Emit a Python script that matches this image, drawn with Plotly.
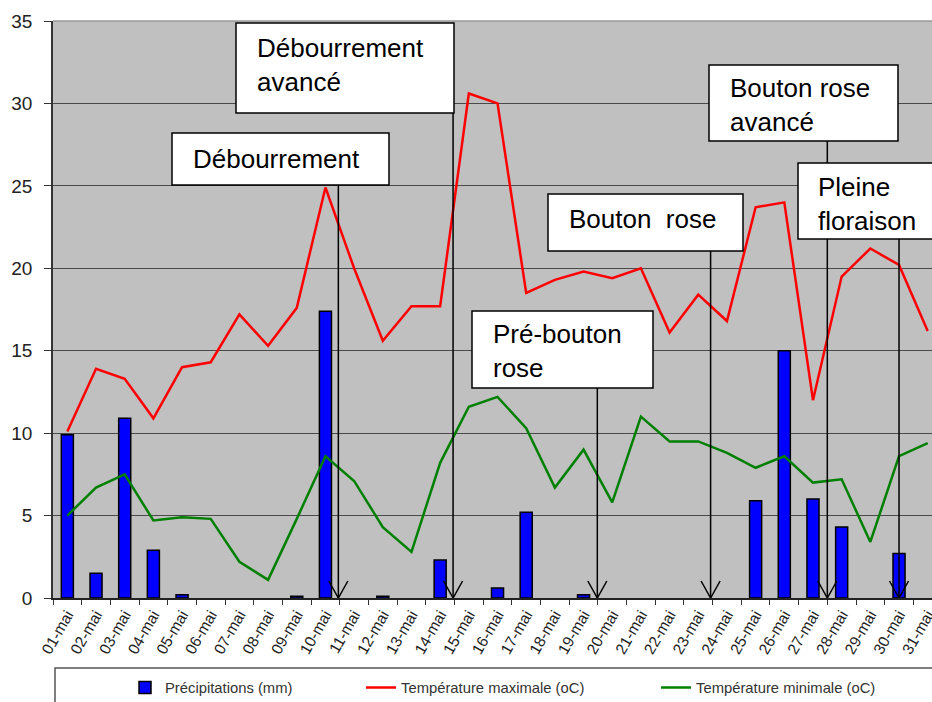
import plotly.graph_objects as go

# ---------------- data ----------------
dates = ["01-mai", "02-mai", "03-mai", "04-mai", "05-mai", "06-mai", "07-mai", "08-mai",
         "09-mai", "10-mai", "11-mai", "12-mai", "13-mai", "14-mai", "15-mai", "16-mai",
         "17-mai", "18-mai", "19-mai", "20-mai", "21-mai", "22-mai", "23-mai", "24-mai",
         "25-mai", "26-mai", "27-mai", "28-mai", "29-mai", "30-mai", "31-mai"]
precip = [9.9, 1.5, 10.9, 2.9, 0.2, 0, 0, 0, 0.1, 17.4, 0, 0.1, 0, 2.3, 0, 0.6,
          5.2, 0, 0.2, 0, 0, 0, 0, 0, 5.9, 15.0, 6.0, 4.3, 0, 2.7, 0]
tmax = [10.1, 13.9, 13.3, 10.9, 14.0, 14.3, 17.2, 15.3, 17.6, 24.9, 20.0, 15.6,
        17.7, 17.7, 30.6, 30.0, 18.5, 19.3, 19.8, 19.4, 20.0, 16.1, 18.4, 16.8,
        23.7, 24.0, 12.0, 19.5, 21.2, 20.2, 16.2]
tmin = [5.0, 6.7, 7.5, 4.7, 4.9, 4.8, 2.2, 1.1, 4.8, 8.6, 7.1, 4.3, 2.8, 8.2,
        11.6, 12.2, 10.3, 6.7, 9.0, 5.8, 11.0, 9.5, 9.5, 8.8, 7.9, 8.6, 7.0, 7.2,
        3.4, 8.6, 9.4]
y_ticks = [0, 5, 10, 15, 20, 25, 30, 35]

# phenological stages: label and position on the date axis (category index)
stage_labels = ["Débourrement", "Débourrement<br>avancé", "Pré-bouton<br>rose",
                "Bouton  rose", "Bouton rose<br>avancé", "Pleine<br>floraison"]
stage_pos = [9.45, 13.45, 18.48, 22.43, 26.5, 29.0]

# ---------------- layout geometry (pixels) ----------------
W, H = 932, 702
L, T, R, B = 53, 21, 932, 598
PW, PH = R - L, B - T


def px2paper_x(px):
    return (px - L) / PW


def px2paper_y(py):
    return (B - py) / PH


def py2data(py):
    return (B - py) / PH * 35.0


# boxes: (left, top, right, bottom) px ; text left px ; text vertical centre px
boxes = [
    (172, 133, 389, 185, 193, 159),
    (236, 23, 454, 113, 257, 65),
    (472, 311, 653, 388, 493, 351),
    (548, 194, 743, 251, 569, 219),
    (709, 65, 898, 141, 730, 105),
    (798, 163, 945, 239, 818, 204),
]

# days without rain draw no bar
precip_bars = [v if v > 0 else None for v in precip]

fig = go.Figure()
fig.add_trace(go.Bar(
    x=dates, y=precip_bars, name="Précipitations (mm)",
    marker=dict(color="#0000FF", line=dict(color="#000000", width=1.5)),
    width=0.42, legend="legend2"))
fig.add_trace(go.Scatter(
    x=dates, y=tmax, name="Température maximale (oC)", mode="lines",
    line=dict(color="#FF0000", width=2.5), legend="legend3"))
fig.add_trace(go.Scatter(
    x=dates, y=tmin, name="Température minimale (oC)", mode="lines",
    line=dict(color="#008000", width=2.5), legend="legend4"))

shapes = []
annotations = []
# arrow shafts and heads
for (bx0, by0, bx1, by1, tx, ty), pos in zip(boxes, stage_pos):
    shapes.append(dict(type="line", xref="x", yref="y", x0=pos, x1=pos,
                       y0=py2data(by1), y1=0, line=dict(color="#000000", width=1.5),
                       layer="above"))
    shapes.append(dict(type="path", xref="x", yref="y", xsizemode="pixel",
                       ysizemode="pixel", xanchor=pos, yanchor=0,
                       path="M-9.5,17 L0,0 L9.5,17",
                       line=dict(color="#000000", width=1.5), layer="above"))
# boxes
for (bx0, by0, bx1, by1, tx, ty), lab in zip(boxes, stage_labels):
    shapes.append(dict(type="rect", xref="paper", yref="paper",
                       x0=px2paper_x(bx0), x1=px2paper_x(bx1),
                       y0=px2paper_y(by1), y1=px2paper_y(by0),
                       fillcolor="#FFFFFF", line=dict(color="#000000", width=1.5),
                       layer="above"))
    annotations.append(dict(text=lab, xref="paper", yref="paper",
                            x=px2paper_x(tx - 2), y=px2paper_y(ty),
                            xanchor="left", yanchor="middle", align="left",
                            showarrow=False,
                            font=dict(family="Liberation Sans, Arial", size=26,
                                      color="#000000")))
# top border of plot area
shapes.append(dict(type="line", xref="paper", yref="paper", x0=0, x1=1, y0=1, y1=1,
                   line=dict(color="#9a9a9a", width=1.5), layer="above"))
# legend frame
shapes.append(dict(type="rect", xref="paper", yref="paper",
                   x0=px2paper_x(55), x1=px2paper_x(950),
                   y0=px2paper_y(720), y1=px2paper_y(668),
                   fillcolor="rgba(0,0,0,0)", line=dict(color="#555555", width=1.5)))

leg_font = dict(family="Liberation Sans, Arial", size=14.8, color="#333333")
leg_y = px2paper_y(688)
common_leg = dict(orientation="h", yanchor="middle", y=leg_y, xanchor="left",
                  bgcolor="rgba(0,0,0,0)", borderwidth=0, font=leg_font,
                  itemwidth=30)

fig.update_layout(
    width=W, height=H,
    margin=dict(l=L, r=W - R, t=T, b=H - B, autoexpand=False),
    paper_bgcolor="#FFFFFF", plot_bgcolor="#C0C0C0",
    bargap=0.5,
    shapes=shapes, annotations=annotations,
    legend2=dict(x=px2paper_x(165 - 40), **common_leg),
    legend3=dict(x=px2paper_x(401 - 40), **common_leg),
    legend4=dict(x=px2paper_x(696 - 40), **common_leg),
    xaxis=dict(type="category", range=[-0.5, 30.15], tickangle=-60,
               tickson="boundaries", ticks="outside", ticklen=5,
               tickcolor="#333333", showline=True, linecolor="#222222",
               linewidth=1.5, showgrid=False,
               tickfont=dict(family="Liberation Sans, Arial", size=15.5,
                             color="#222222")),
    yaxis=dict(range=[0, 35], tickvals=y_ticks, ticks="outside", ticklen=7,
               tickcolor="#333333", showline=True, linecolor="#333333",
               linewidth=1.5, showgrid=True, gridcolor="#4a4a4a", gridwidth=1.2,
               zeroline=False, ticklabelstandoff=8,
               tickfont=dict(family="Liberation Sans, Arial", size=19,
                             color="#222222")),
)

fig.write_html("out.html", config={"displayModeBar": False},
               post_script="document.body.style.margin='0';document.body.style.overflow='hidden';")
